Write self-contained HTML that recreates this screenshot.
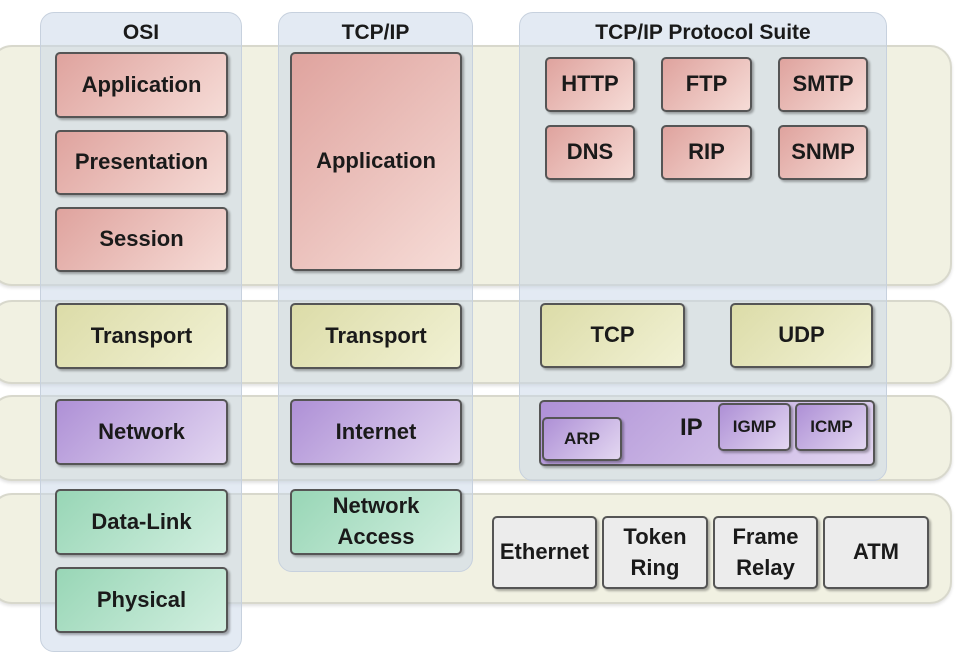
<!DOCTYPE html>
<html><head><meta charset="utf-8"><style>
body{margin:0;width:980px;height:642px;background:#fff;position:relative;overflow:hidden;font-family:"Liberation Sans",sans-serif;font-weight:bold;color:#1a1a1a}
div{position:absolute;box-sizing:border-box}
.band{background:#f1f1e2;border:2px solid #d8d8cc;border-radius:22px;box-shadow:0 2px 3px rgba(0,0,0,.12)}
.col{background:rgba(200,214,232,.5);border:1px solid #c7d1de;border-radius:14px}
.ct{width:100%;text-align:center;font-size:21px;top:8px}
.b{border:2px solid #555;border-radius:5px;display:flex;align-items:center;justify-content:center;text-align:center;font-size:22px;box-shadow:2px 2px 2px rgba(0,0,0,.3);line-height:1.2}
.t{line-height:1.4}
.p{background:linear-gradient(135deg,#dfa39e,#f6dcd7)}
.o{background:linear-gradient(135deg,#dcdca8,#f1f1d4)}
.v{background:linear-gradient(135deg,#ae90d6,#e3d7f1)}
.g{background:linear-gradient(135deg,#98d6b6,#d2efe0)}
.w{background:#ececec}
</style></head><body>
<div class="band" style="left:-10px;top:45px;width:962px;height:241px"></div>
<div class="band" style="left:-10px;top:300px;width:962px;height:84px"></div>
<div class="band" style="left:-10px;top:395px;width:962px;height:86px"></div>
<div class="band" style="left:-10px;top:493px;width:962px;height:111px"></div>

<div class="col" style="left:40px;top:12px;width:202px;height:640px"><div class="ct">OSI</div></div>
<div class="col" style="left:278px;top:12px;width:195px;height:560px"><div class="ct">TCP/IP</div></div>
<div class="col" style="left:519px;top:12px;width:368px;height:469px"><div class="ct">TCP/IP Protocol Suite</div></div>

<div class="b p" style="left:55px;top:52px;width:173px;height:66px">Application</div>
<div class="b p" style="left:55px;top:130px;width:173px;height:65px">Presentation</div>
<div class="b p" style="left:55px;top:207px;width:173px;height:65px">Session</div>
<div class="b o" style="left:55px;top:303px;width:173px;height:66px">Transport</div>
<div class="b v" style="left:55px;top:399px;width:173px;height:66px">Network</div>
<div class="b g" style="left:55px;top:489px;width:173px;height:66px">Data-Link</div>
<div class="b g" style="left:55px;top:567px;width:173px;height:66px">Physical</div>

<div class="b p" style="left:290px;top:52px;width:172px;height:219px">Application</div>
<div class="b o" style="left:290px;top:303px;width:172px;height:66px">Transport</div>
<div class="b v" style="left:290px;top:399px;width:172px;height:66px">Internet</div>
<div class="b g t" style="left:290px;top:489px;width:172px;height:66px">Network<br>Access</div>

<div class="b p" style="left:545px;top:57px;width:90px;height:55px">HTTP</div>
<div class="b p" style="left:661px;top:57px;width:91px;height:55px">FTP</div>
<div class="b p" style="left:778px;top:57px;width:90px;height:55px">SMTP</div>
<div class="b p" style="left:545px;top:125px;width:90px;height:55px">DNS</div>
<div class="b p" style="left:661px;top:125px;width:91px;height:55px">RIP</div>
<div class="b p" style="left:778px;top:125px;width:90px;height:55px">SNMP</div>
<div class="b o" style="left:540px;top:303px;width:145px;height:65px">TCP</div>
<div class="b o" style="left:730px;top:303px;width:143px;height:65px">UDP</div>
<div class="b v" style="left:539px;top:400px;width:336px;height:66px"></div>
<div style="left:680px;top:414px;font-size:24px;font-weight:bold">IP</div>
<div class="b v" style="left:542px;top:417px;width:80px;height:44px;font-size:17px">ARP</div>
<div class="b v" style="left:718px;top:403px;width:73px;height:48px;font-size:17px">IGMP</div>
<div class="b v" style="left:795px;top:403px;width:73px;height:48px;font-size:17px">ICMP</div>

<div class="b w" style="left:492px;top:516px;width:105px;height:73px">Ethernet</div>
<div class="b w t" style="left:602px;top:516px;width:106px;height:73px">Token<br>Ring</div>
<div class="b w t" style="left:713px;top:516px;width:105px;height:73px">Frame<br>Relay</div>
<div class="b w" style="left:823px;top:516px;width:106px;height:73px">ATM</div>
</body></html>
